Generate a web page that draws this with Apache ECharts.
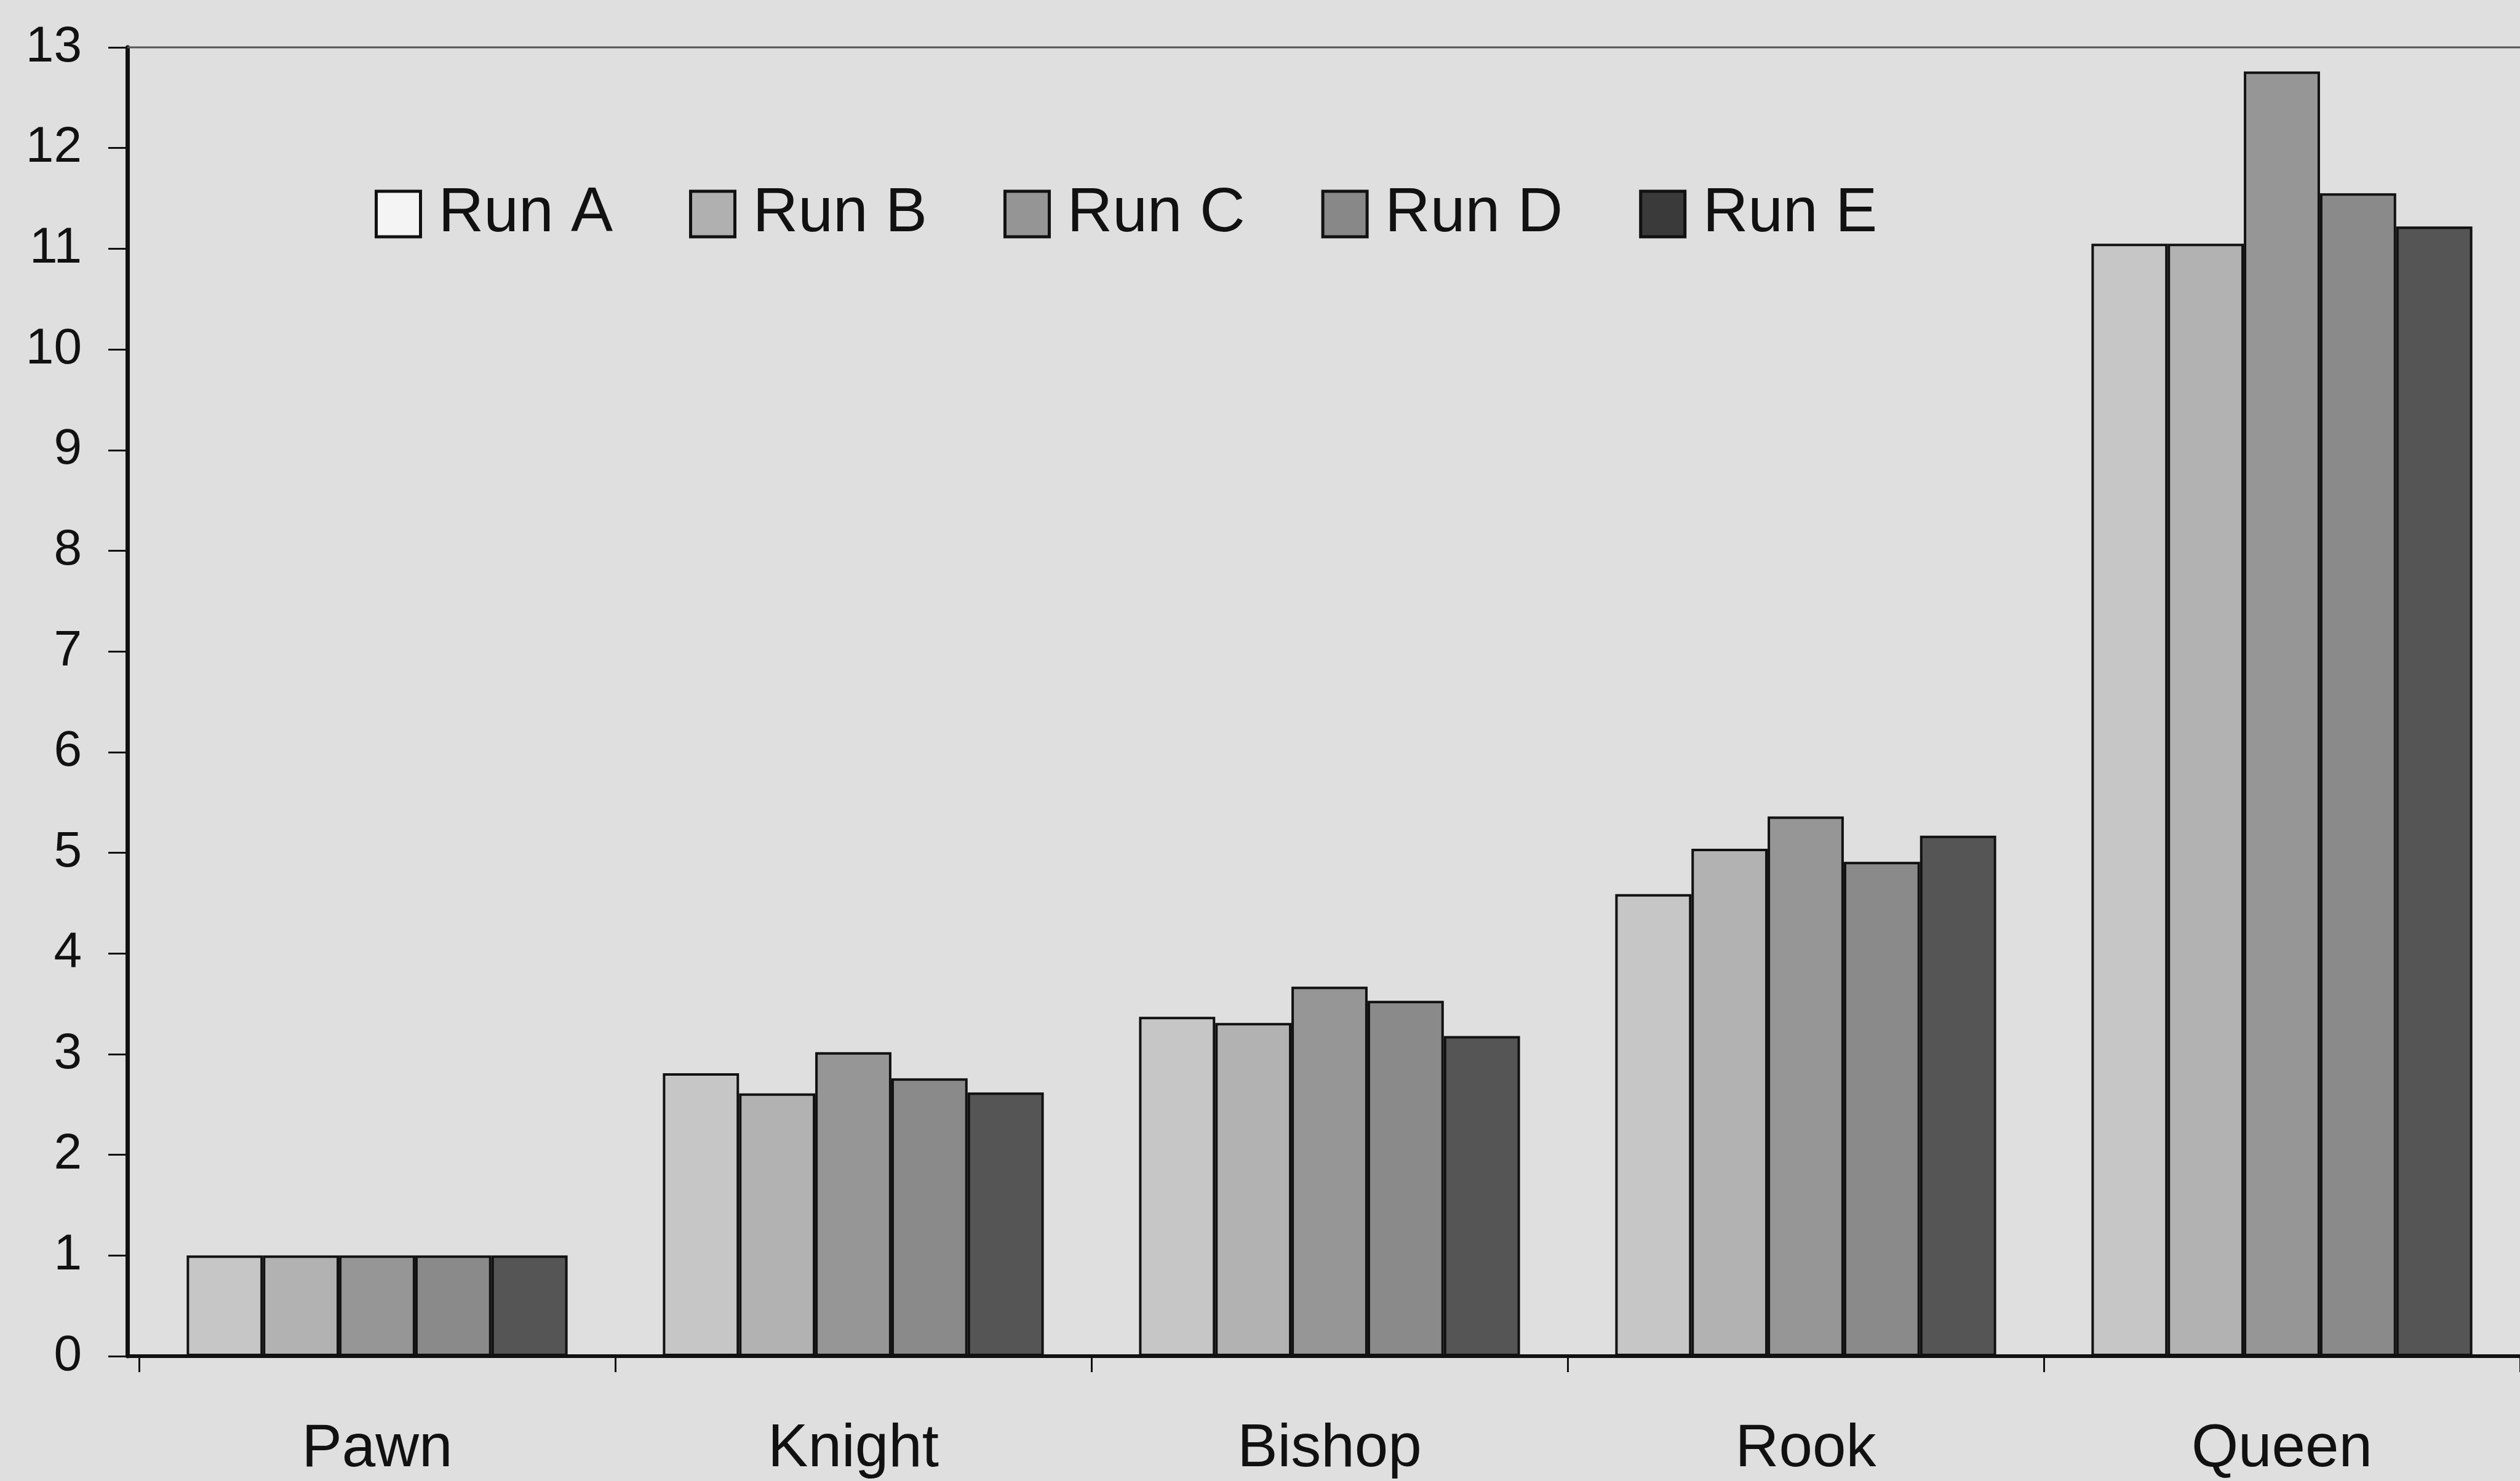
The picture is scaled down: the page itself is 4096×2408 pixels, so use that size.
<!DOCTYPE html>
<html>
<head>
<meta charset="utf-8">
<script src="https://cdn.jsdelivr.net/npm/echarts@6/dist/echarts.min.js"></script>
<style>
html,body{margin:0;padding:0;background:#dfdfdf;}
#chart{width:4096px;height:2408px;}
</style>
</head>
<body>
<div id="chart"></div>
<script>
const categories = ['Pawn', 'Knight', 'Bishop', 'Rook', 'Queen'];
const seriesNames = ['Run A', 'Run B', 'Run C', 'Run D', 'Run E'];
const runA = [1.0, 2.81, 3.37, 4.59, 11.05];
const runB = [1.0, 2.61, 3.31, 5.04, 11.05];
const runC = [1.0, 3.02, 3.67, 5.36, 12.76];
const runD = [1.0, 2.76, 3.53, 4.91, 11.55];
const runE = [1.0, 2.62, 3.18, 5.17, 11.22];
const yTicks = { min: 0, max: 13, interval: 1 };

const values = [runA, runB, runC, runD, runE];
const fills = ['#c6c6c6', '#b2b2b2', '#969696', '#8a8a8a', '#555555'];
const legendFills = ['#f4f4f4', '#b0b0b0', '#959595', '#888888', '#3a3a3a'];

const GRID_LEFT = 226, GRID_TOP = 77, GRID_BOTTOM = 203, GRID_WIDTH = 3895, Y_OFFSET = 19;
const H = 2408, W = 4096;

const chart = echarts.init(document.getElementById('chart'));
chart.setOption({
  backgroundColor: '#dfdfdf',
  animation: false,
  textStyle: { fontFamily: 'Liberation Sans, Arial, sans-serif', color: '#111' },
  grid: {
    left: GRID_LEFT, top: GRID_TOP, width: GRID_WIDTH, bottom: GRID_BOTTOM, show: false
  },
  graphic: [
    { type: 'line', silent: true, z: 10,
      shape: { x1: GRID_LEFT - Y_OFFSET, y1: H - GRID_BOTTOM, x2: GRID_LEFT, y2: H - GRID_BOTTOM },
      style: { stroke: '#111', lineWidth: 6 } },
    { type: 'line', silent: true, z: 10,
      shape: { x1: GRID_LEFT - Y_OFFSET, y1: GRID_TOP, x2: W, y2: GRID_TOP },
      style: { stroke: '#555', lineWidth: 3 } }
  ],
  legend: {
    left: 604, top: 292,
    icon: 'rect', itemWidth: 72, itemHeight: 74, itemGap: 124,
    textStyle: { fontSize: 102, color: '#111', padding: [0, 0, 0, 24] },
    itemStyle: { borderColor: '#111', borderWidth: 5 },
    data: seriesNames.map((n, i) => ({ name: n, itemStyle: { color: legendFills[i], borderColor: '#111', borderWidth: 5 } }))
  },
  xAxis: {
    type: 'category', data: categories,
    axisLine: { lineStyle: { color: '#111', width: 6 } },
    axisTick: { show: true, length: 26, lineStyle: { color: '#111', width: 3 } },
    axisLabel: { fontSize: 98, color: '#111', margin: 103 }
  },
  yAxis: {
    type: 'value', min: yTicks.min, max: yTicks.max, interval: yTicks.interval,
    offset: Y_OFFSET,
    splitLine: { show: false },
    axisLine: { show: true, lineStyle: { color: '#111', width: 7 } },
    axisTick: { show: true, length: 31, lineStyle: { color: '#111', width: 3 } },
    axisLabel: { fontSize: 82, color: '#111', margin: 74 }
  },
  series: seriesNames.map((n, i) => ({
    name: n, type: 'bar', data: values[i],
    barGap: '0%', barCategoryGap: '20%',
    itemStyle: { color: fills[i], borderColor: '#111', borderWidth: 4 }
  }))
});
</script>
</body>
</html>
